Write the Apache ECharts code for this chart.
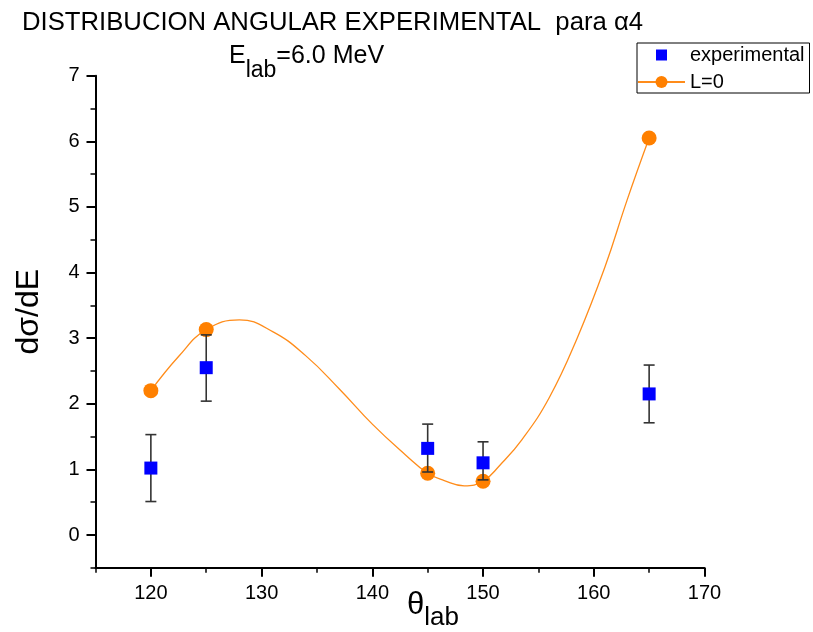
<!DOCTYPE html>
<html>
<head>
<meta charset="utf-8">
<title>Distribución angular experimental</title>
<script src="https://cdn.jsdelivr.net/npm/echarts@6/dist/echarts.min.js"></script>
<style>
  html, body { margin: 0; padding: 0; background: #fff; }
  #chart { width: 813px; height: 632px; }
</style>
</head>
<body>
<div id="chart"></div>
<script>
// Measured cross sections (dσ/dE) at each lab angle, with error-bar limits
const expTheta = [120, 125, 145, 150, 165];
const expValue = [1.02, 2.55, 1.32, 1.10, 2.15];
const expLow   = [0.51, 2.04, 0.96, 0.84, 1.71];
const expHigh  = [1.53, 3.05, 1.69, 1.42, 2.59];

// L=0 calculation at the measured angles
const modelTheta = [120, 125, 145, 150, 165];
const modelValue = [2.20, 3.13, 0.94, 0.82, 6.05];

// L=0 fitted curve, sampled along its length (incl. maximum and minimum)
const curveTheta = [120, 122.5, 125, 128, 131, 134, 137, 140, 143, 145,
                    146.5, 148.3, 150, 151.5, 153.5, 156, 158.5, 161, 163, 165];
const curveValue = [2.20, 2.72, 3.13, 3.28, 3.10, 2.73, 2.23, 1.69, 1.22, 0.94,
                    0.83, 0.75, 0.82, 1.06, 1.45, 2.10, 3.00, 4.08, 5.10, 6.05];

// Axis ticks
const xMajorTicks = [120, 130, 140, 150, 160, 170];
const xMinorTicks = [115, 125, 135, 145, 155, 165];
const yMajorTicks = [0, 1, 2, 3, 4, 5, 6, 7];
const yMinorTicks = [-0.5, 0.5, 1.5, 2.5, 3.5, 4.5, 5.5, 6.5];

const FONT = "'Liberation Sans', Arial, sans-serif";
const AXIS_COLOR = '#000';

const zip = (a, b) => a.map((v, i) => [v, b[i]]);

const chart = echarts.init(document.getElementById('chart'), null, { renderer: 'canvas' });

const xBase = { type: 'value', min: 115, max: 170, gridIndex: 0, position: 'bottom', splitLine: { show: false } };
const yBase = { type: 'value', min: -0.5, max: 7, gridIndex: 0, position: 'left', splitLine: { show: false } };

chart.setOption({
  animation: false,
  backgroundColor: '#fff',
  title: [
    {
      text: 'DISTRIBUCION ANGULAR EXPERIMENTAL  para α4',
      left: 22, top: 10, padding: 0,
      textStyle: { fontFamily: FONT, fontSize: 25.7, fontWeight: 'normal', color: '#000' }
    },
    {
      text: '{m|E}{s|lab}{m|=6.0 MeV}',
      left: 229, top: 31, padding: 0,
      textStyle: {
        fontWeight: 'normal',
        rich: {
          m: { fontFamily: FONT, fontSize: 25, fontWeight: 'normal', color: '#000' },
          s: { fontFamily: FONT, fontSize: 23, fontWeight: 'normal', color: '#000', padding: [28, 0, 0, 0] }
        }
      }
    }
  ],
  legend: {
    left: 637, top: 43,
    orient: 'vertical',
    selectedMode: false,
    borderColor: '#000', borderWidth: 1,
    padding: [2, 5, 1, 0],
    itemWidth: 47, itemHeight: 15, itemGap: 7,
    textStyle: { fontFamily: FONT, fontSize: 20, color: '#000' },
    data: [
      { name: 'experimental', icon: 'path://M0,0M15,15M2,2H13V13H2Z' },
      { name: 'L=0' }
    ]
  },
  grid: { left: 95.5, right: 108.5, top: 75.7, bottom: 64.2, containLabel: false, outerBoundsMode: 'none' },
  xAxis: [
    Object.assign({}, xBase, {
      axisLine: { show: true, onZero: false, lineStyle: { color: AXIS_COLOR, width: 2 } },
      axisTick: { show: true, inside: false, length: 9, customValues: xMajorTicks, lineStyle: { color: AXIS_COLOR, width: 2 } },
      axisLabel: { show: true, customValues: xMajorTicks, margin: 16, fontFamily: FONT, fontSize: 20, color: '#000' },
      name: '{t|θ}{s|lab}',
      nameLocation: 'middle',
      nameGap: 13,
      nameMoveOverlap: false,
      nameTextStyle: {
        padding: [0, 0, 0, 66],
        rich: {
          t: { fontFamily: FONT, fontSize: 31, color: '#000' },
          s: { fontFamily: FONT, fontSize: 26, color: '#000', padding: [24, 0, 0, 0] }
        }
      }
    }),
    Object.assign({}, xBase, {
      axisLine: { show: false, onZero: false },
      axisTick: { show: true, inside: false, length: 5, customValues: xMinorTicks, lineStyle: { color: AXIS_COLOR, width: 1.5 } },
      axisLabel: { show: false }
    })
  ],
  yAxis: [
    Object.assign({}, yBase, {
      axisLine: { show: true, onZero: false, lineStyle: { color: AXIS_COLOR, width: 2 } },
      axisTick: { show: true, inside: false, length: 9, customValues: yMajorTicks, lineStyle: { color: AXIS_COLOR, width: 2 } },
      axisLabel: { show: true, customValues: yMajorTicks, margin: 16, fontFamily: FONT, fontSize: 20, color: '#000' },
      name: 'dσ/dE',
      nameLocation: 'middle',
      nameGap: 50,
      nameRotate: 90,
      nameMoveOverlap: false,
      nameTextStyle: { fontFamily: FONT, fontSize: 32, color: '#000', padding: [0, 0, 0, 20] }
    }),
    Object.assign({}, yBase, {
      axisLine: { show: false, onZero: false },
      axisTick: { show: true, inside: false, length: 5, customValues: yMinorTicks, lineStyle: { color: AXIS_COLOR, width: 1.5 } },
      axisLabel: { show: false }
    })
  ],
  series: [
    {
      name: 'L=0',
      type: 'line',
      xAxisIndex: 0, yAxisIndex: 0,
      data: zip(curveTheta, curveValue),
      smooth: 0.45,
      showSymbol: false,
      symbol: 'circle',
      symbolSize: 15,
      itemStyle: { color: '#FF8000' },
      lineStyle: { color: '#FF8C1A', width: 1.3 },
      z: 2
    },
    {
      name: 'L=0 points',
      type: 'scatter',
      xAxisIndex: 0, yAxisIndex: 0,
      data: zip(modelTheta, modelValue),
      symbol: 'circle',
      symbolSize: 15,
      itemStyle: { color: '#FF8000', opacity: 1 },
      z: 3
    },
    {
      name: 'experimental error',
      type: 'custom',
      xAxisIndex: 0, yAxisIndex: 0,
      data: expTheta.map((t, i) => [t, expLow[i], expHigh[i]]),
      encode: { x: 0, y: [1, 2] },
      renderItem: function (params, api) {
        const x = api.value(0);
        const lo = api.coord([x, api.value(1)]);
        const hi = api.coord([x, api.value(2)]);
        const w = 5.5;
        const style = { stroke: '#333', lineWidth: 1.6 };
        return {
          type: 'group',
          children: [
            { type: 'line', shape: { x1: lo[0], y1: lo[1], x2: hi[0], y2: hi[1] }, style: style },
            { type: 'line', shape: { x1: lo[0] - w, y1: lo[1], x2: lo[0] + w, y2: lo[1] }, style: style },
            { type: 'line', shape: { x1: hi[0] - w, y1: hi[1], x2: hi[0] + w, y2: hi[1] }, style: style }
          ]
        };
      },
      z: 4
    },
    {
      name: 'experimental',
      type: 'scatter',
      xAxisIndex: 0, yAxisIndex: 0,
      data: zip(expTheta, expValue),
      symbol: 'rect',
      symbolSize: 13,
      itemStyle: { color: '#0000FF', opacity: 1 },
      z: 5
    }
  ]
});
</script>
</body>
</html>
